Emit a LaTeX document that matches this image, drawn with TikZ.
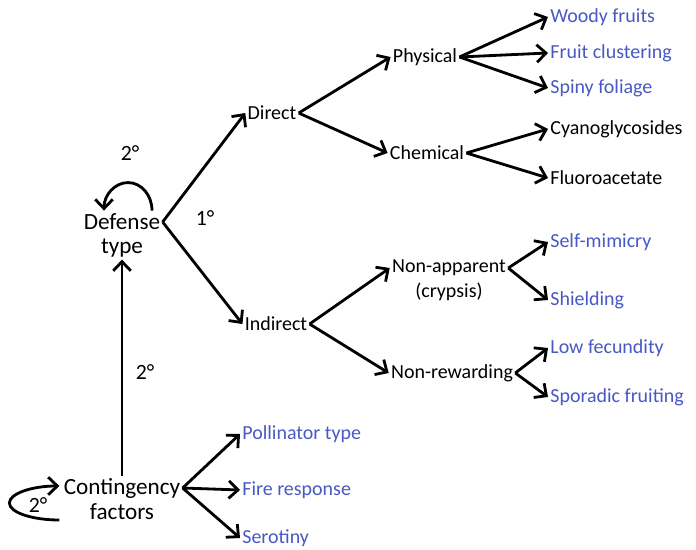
\documentclass[tikz,border=0pt]{standalone}
\usepackage{fontspec}
\setmainfont{Carlito}
\usetikzlibrary{positioning,arrows.meta,calc}
\usepackage{xcolor}
\definecolor{leafblue}{RGB}{72,88,196}
\tikzset{
  term/.style    = {font=\fontsize{14.2}{16}\selectfont, inner sep=1.5pt},
  bigterm/.style = {font=\fontsize{16.5}{18}\selectfont, inner sep=1.5pt},
  leaf/.style    = {term, anchor=west, text=leafblue},
  leafblk/.style = {term, anchor=west},
  link/.style    = {line width=2pt, -{Straight Barb[length=2.3mm,width=4.4mm]}},
  deg/.style     = {font=\fontsize{15.5}{17}\selectfont, inner sep=1pt}
}

\begin{document}
\begin{tikzpicture}[x=0.25mm,y=0.25mm]
\useasboundingbox (0,0) rectangle (696,549);

% --- the two left-hand factors ------------------------------------------
\node[bigterm] (def)  at (122,327) {Defense};
\node[bigterm] (type) at (122,301) {type};
\node[bigterm] (cont) at (122,61)  {Contingency};
\node[bigterm] (fact) at (122,37)  {factors};

% --- first split ---------------------------------------------------------
\node[term] (direct)   at (272,436) {Direct};
\node[term] (indirect) at (276,225) {Indirect};

% --- second split --------------------------------------------------------
\node[term] (phys) at (425,492) {Physical};
\node[term] (chem) at (427,396) {Chemical};
\node[term] (napp) at (449,281) {Non-apparent};
\node[term] (cryp) at (449,257) {(crypsis)};
\node[term] (nrew) at (452,176) {Non-rewarding};

% --- leaves --------------------------------------------------------------
\node[leaf]    (woody)  at (548,532) {Woody fruits};
\node[leaf]    (clust)  at (548,496) {Fruit clustering};
\node[leaf]    (spiny)  at (548,461) {Spiny foliage};
\node[leafblk] (cyano)  at (548,420) {Cyanoglycosides};
\node[leafblk] (fluoro) at (548,371) {Fluoroacetate};
\node[leaf]    (selfm)  at (548,307) {Self-mimicry};
\node[leaf]    (shield) at (548,249) {Shielding};
\node[leaf]    (lowfec) at (548,201) {Low fecundity};
\node[leaf]    (spor)   at (548,152) {Sporadic fruiting};
\node[leaf]    (poll)   at (240,115) {Pollinator type};
\node[leaf]    (fire)   at (240,59)  {Fire response};
\node[leaf]    (sero)   at (240,11)  {Serotiny};

% --- degree labels -------------------------------------------------------
\node[deg] (d2top)  at (130,396) {2°};
\node[deg] (d1)     at (205,331) {1°};
\node[deg] (d2mid)  at (145,177) {2°};
\node[deg] (d2left) at (38,44)   {2°};

% --- connectors ----------------------------------------------------------
\draw[link] (def.east) -- (direct.west);
\draw[link] (def.east) -- (indirect.west);
\draw[link] (direct.east) -- (phys.west);
\draw[link] (direct.east) -- (chem.west);
\draw[link] (indirect.east) -- (napp.west);
\draw[link] (indirect.east) -- (nrew.west);
\draw[link] (phys.east) -- (woody.west);
\draw[link] (phys.east) -- (clust.west);
\draw[link] (phys.east) -- (spiny.west);
\draw[link] (chem.east) -- (cyano.west);
\draw[link] (chem.east) -- (fluoro.west);
\draw[link] (napp.east) -- (selfm.west);
\draw[link] (napp.east) -- (shield.west);
\draw[link] (nrew.east) -- (lowfec.west);
\draw[link] (nrew.east) -- (spor.west);
\draw[link] (cont.east) -- (poll.west);
\draw[link] (cont.east) -- (fire.west);
\draw[link] (cont.east) -- (sero.west);
\draw[link] (cont.north) -- (type.south);

% --- self loops ----------------------------------------------------------
\draw[link] ($(def.north)+(30,1)$) arc[start angle=0, end angle=180,
      x radius=24, y radius=28];
\draw[link] ($(cont.west)+(-2,-32)$) arc[start angle=270, end angle=90,
      x radius=50, y radius=17];

\end{tikzpicture}
\end{document}
